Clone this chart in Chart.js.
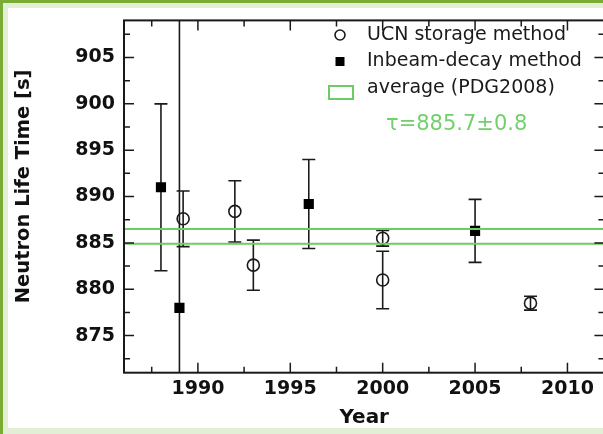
<!DOCTYPE html>
<html><head><meta charset="utf-8">
<script src="https://cdn.jsdelivr.net/npm/chart.js@4.4.1/dist/chart.umd.min.js"></script>
<style>
html,body{margin:0;padding:0;background:#fff;overflow:hidden;width:603px;height:434px;position:relative;}
.f{position:absolute;}
#wrap{position:absolute;left:0;top:0;width:612px;height:434px;}
</style></head><body>
<div class="f" style="left:0;top:0;width:603px;height:3px;background:#7aab34"></div>
<div class="f" style="left:0;top:0;width:3px;height:434px;background:#7aab34"></div>
<div class="f" style="left:3px;top:3px;width:600px;height:5px;background:#e2eed5"></div>
<div class="f" style="left:3px;top:3px;width:5px;height:431px;background:#e2eed5"></div>
<div class="f" style="left:3px;top:428px;width:600px;height:6px;background:#e2eed5"></div>
<div id="wrap"><canvas id="c"></canvas></div>
<script>
// ---- data ----
const xTickValues = [1990, 1995, 2000, 2005, 2010];
const xMinorTickValues = [1987.5, 1992.5, 1997.5, 2002.5, 2007.5];
const yTickValues = [875, 880, 885, 890, 895, 900, 905];
const yMinorTickValues = [872.5, 877.5, 882.5, 887.5, 892.5, 897.5, 902.5, 907.5];

const ucnYears = [1989.2, 1992, 1993, 2000, 2000, 2008];
const ucnTau   = [887.6, 888.4, 882.6, 885.5, 881.0, 878.5];
const ucnErr   = [3.0, 3.3, 2.7, 0.85, 3.1, 0.75];

const beamYears = [1988, 1989, 1996, 2005];
const beamTau   = [891.0, 878.0, 889.2, 886.3];
const beamErr   = [9.0, 40.0, 4.8, 3.4];

const avgYears = [1986, 2012];
const avgUpper = [886.5, 886.5];
const avgLower = [884.9, 884.9];

const legendLabels = ['UCN storage method', 'Inbeam-decay method', 'average (PDG2008)'];
const avgText = 'τ=885.7±0.8';

// ---- style ----
const GREEN = '#6ccd62';
const GREEN_TXT = '#72d06c';
const INK = '#1a1a1a';
const FONT = "'DejaVu Sans', sans-serif";

const errorBars = {
  id: 'errorBars',
  beforeDatasetsDraw(chart) {
    const {ctx, chartArea: a, scales: {x, y}} = chart;
    ctx.save();
    ctx.beginPath(); ctx.rect(a.left, a.top, a.right - a.left, a.bottom - a.top); ctx.clip();
    ctx.strokeStyle = INK; ctx.lineWidth = 1.6;
    chart.data.datasets.forEach(ds => {
      if (!ds.errors) return;
      ds.data.forEach((p, i) => {
        const px = x.getPixelForValue(p.x);
        const yt = y.getPixelForValue(p.y + ds.errors[i]);
        const yb = y.getPixelForValue(p.y - ds.errors[i]);
        ctx.beginPath();
        ctx.moveTo(px, yt); ctx.lineTo(px, yb);
        ctx.moveTo(px - 6.5, yt); ctx.lineTo(px + 6.5, yt);
        ctx.moveTo(px - 6.5, yb); ctx.lineTo(px + 6.5, yb);
        ctx.stroke();
      });
    });
    ctx.restore();
  }
};

const frameTicks = {
  id: 'frameTicks',
  afterDraw(chart) {
    const {ctx, chartArea: a, scales: {x, y}} = chart;
    ctx.save();
    ctx.strokeStyle = INK;
    ctx.lineWidth = 2;
    ctx.strokeRect(a.left, a.top, a.right - a.left, a.bottom - a.top);
    ctx.lineWidth = 1.5;
    ctx.beginPath();
    const xt = (vals, len) => vals.forEach(v => {
      const px = x.getPixelForValue(v);
      ctx.moveTo(px, a.bottom); ctx.lineTo(px, a.bottom - len);
      ctx.moveTo(px, a.top); ctx.lineTo(px, a.top + len);
    });
    const yt = (vals, len) => vals.forEach(v => {
      const py = y.getPixelForValue(v);
      ctx.moveTo(a.left, py); ctx.lineTo(a.left + len, py);
      ctx.moveTo(a.right, py); ctx.lineTo(a.right - len, py);
    });
    xt(xTickValues, 10); xt(xMinorTickValues, 6);
    yt(yTickValues, 10); yt(yMinorTickValues, 6);
    ctx.stroke();
    ctx.restore();
  }
};

const legendPlugin = {
  id: 'customLegend',
  afterDraw(chart) {
    const ctx = chart.ctx;
    ctx.save();
    ctx.textBaseline = 'middle';
    ctx.textAlign = 'left';
    ctx.font = "19px " + FONT;
    ctx.fillStyle = INK;
    ctx.strokeStyle = INK; ctx.lineWidth = 1.6;
    ctx.beginPath(); ctx.arc(340, 35, 5, 0, Math.PI * 2); ctx.stroke();
    ctx.fillText(legendLabels[0], 367, 35);
    ctx.fillStyle = '#000';
    ctx.fillRect(335.5, 57, 9, 9);
    ctx.fillStyle = INK;
    ctx.fillText(legendLabels[1], 367, 61.5);
    ctx.strokeStyle = GREEN; ctx.lineWidth = 2;
    ctx.strokeRect(329, 86, 24, 13);
    ctx.fillText(legendLabels[2], 367, 88);
    ctx.fillStyle = GREEN_TXT;
    ctx.font = "21px " + FONT;
    ctx.fillText(avgText, 386, 125);
    ctx.restore();
  }
};

new Chart(document.getElementById('c'), {
  type: 'scatter',
  data: {
    datasets: [
      { label: 'average upper', type: 'line', showLine: true, fill: false,
        data: avgYears.map((v, i) => ({x: v, y: avgUpper[i]})),
        borderColor: GREEN, borderWidth: 2, pointRadius: 0 },
      { label: 'average lower', type: 'line', showLine: true, fill: false,
        data: avgYears.map((v, i) => ({x: v, y: avgLower[i]})),
        borderColor: GREEN, borderWidth: 2, pointRadius: 0 },
      { label: legendLabels[0],
        data: ucnYears.map((v, i) => ({x: v, y: ucnTau[i]})),
        errors: ucnErr,
        pointStyle: 'circle', pointRadius: 6, pointBorderWidth: 1.6,
        borderColor: INK, backgroundColor: 'rgba(0,0,0,0)' },
      { label: legendLabels[1],
        data: beamYears.map((v, i) => ({x: v, y: beamTau[i]})),
        errors: beamErr,
        pointStyle: 'rect', pointRadius: 7.2, pointBorderWidth: 0,
        borderColor: '#000', backgroundColor: '#000' }
    ]
  },
  options: {
    responsive: true,
    maintainAspectRatio: false,
    animation: false,
    layout: { padding: { left: 0, right: 7, top: 9.3, bottom: 0 } },
    plugins: { legend: { display: false }, tooltip: { enabled: false } },
    scales: {
      x: {
        type: 'linear', min: 1986, max: 2012,
        afterBuildTicks: s => { s.ticks = xTickValues.map(v => ({value: v})); },
        afterFit: s => { s.height = 61.3; },
        grid: { display: false, drawTicks: false },
        border: { display: false },
        ticks: { color: '#111', padding: 5, maxRotation: 0, autoSkip: false,
                 callback: v => String(v),
                 font: { family: FONT, size: 19, weight: 'bold' } },
        title: { display: true, text: 'Year', color: '#111',
                 font: { family: FONT, size: 20, weight: 'bold' },
                 padding: { top: 0, bottom: 4 } }
      },
      y: {
        type: 'linear', min: 871, max: 909,
        afterBuildTicks: s => { s.ticks = yTickValues.map(v => ({value: v})); },
        afterFit: s => { s.width = 124; },
        grid: { display: false, drawTicks: false },
        border: { display: false },
        ticks: { color: '#111', padding: 9, autoSkip: false,
                 callback: v => String(v),
                 font: { family: FONT, size: 19, weight: 'bold' } },
        title: { display: true, text: '   Neutron Life Time [s]', color: '#111',
                 font: { family: FONT, size: 19.5, weight: 'bold' },
                 padding: { top: 12, bottom: 0 } }
      }
    }
  },
  plugins: [errorBars, frameTicks, legendPlugin]
});
</script>
</body></html>
